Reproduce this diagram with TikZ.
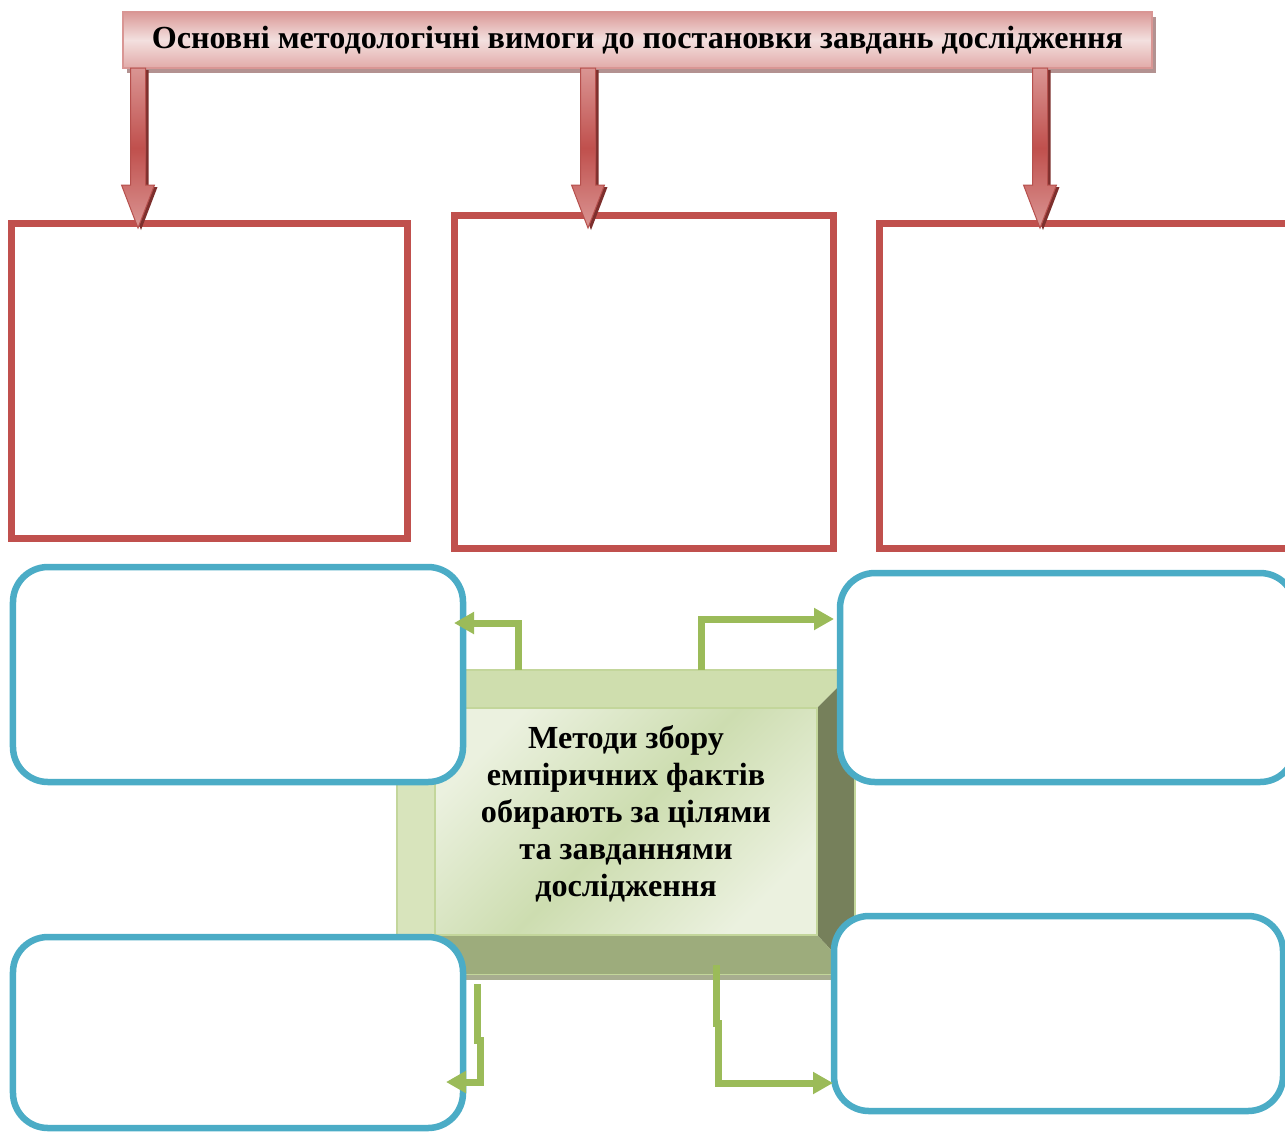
\documentclass[tikz,border=0pt]{standalone}
\usepackage{xcolor}
\usepackage{fontspec}
\setmainfont{Liberation Serif}
\usepackage{tikz}
\usetikzlibrary{arrows.meta}

\definecolor{boxred}{HTML}{C0504D}
\definecolor{boxblue}{HTML}{4BACC6}
\definecolor{linkgreen}{HTML}{9BBB59}
\definecolor{bannerdark}{HTML}{D99694}
\definecolor{bannertop}{HTML}{DA9896}
\definecolor{bannerlight}{HTML}{F3E0DF}
\definecolor{bannerbottom}{HTML}{E2AAA8}
\definecolor{bannershadow}{HTML}{B39291}
\definecolor{arrowlight}{HTML}{DA9593}
\definecolor{arrowedge}{HTML}{B6504D}
\definecolor{arrowshadow}{HTML}{7D2F2D}
\definecolor{bevtop}{HTML}{CFDEAE}
\definecolor{bevleft}{HTML}{D8E4BC}
\definecolor{bevright}{HTML}{76805B}
\definecolor{bevbottom}{HTML}{9DAC7C}
\definecolor{bevedge}{HTML}{C3D69B}
\definecolor{bevshadow}{HTML}{A7AD8F}
\definecolor{facelight}{HTML}{EBF1DF}
\definecolor{facemid}{HTML}{CDDDB0}

\begin{document}
\begin{tikzpicture}[x=0.2mm, y=-0.2mm,
        redbox/.style={rectangle, draw=boxred, line width=1.4mm},
        bluebox/.style={rectangle, draw=boxblue, fill=white, line width=1.3mm, rounded corners=7mm},
        link/.style={draw=linkgreen, line width=1.4mm, -{Triangle[length=4mm, width=4.2mm]}},
        downarrow/.style={draw=arrowedge, line width=0.2mm, top color=arrowlight, bottom color=arrowlight, middle color=boxred},
        bigtext/.style={font=\fontsize{18.3}{21}\selectfont\bfseries}]
        \useasboundingbox (0,0) rectangle (1285,1131);

        % banner
        \fill[bannershadow] (127,17) rectangle (1156,73);
        \node[rectangle, draw=bannerdark, line width=0.4mm, top color=bannertop, bottom color=bannerbottom, middle color=bannerlight, minimum width=205.8mm, minimum height=11.2mm, bigtext] at (637.5,40) (banner) {Основні методологічні вимоги до постановки завдань дослідження};

        % red boxes
        \node[redbox, minimum width=79mm, minimum height=63mm] at (209.5,380.5) (lbox) {};
        \node[redbox, minimum width=75.8mm, minimum height=66.6mm] at (643.5,381.5) (mbox) {};
        \node[redbox, minimum width=83.2mm, minimum height=65mm] at (1087,385.5) (rbox) {};

        % block arrows
        \foreach \x in {138, 588, 1040} {
            \fill[arrowshadow] (\x-4.5,70) -- (\x+10.5,70) -- (\x+10.5,187) -- (\x+19.5,187) -- (\x+3,230) -- (\x-13.5,187) -- (\x-4.5,187) -- cycle;
            \path[downarrow] (\x-7.5,68) -- (\x+7.5,68) -- (\x+7.5,185) -- (\x+16.5,185) -- (\x,228) -- (\x-16.5,185) -- (\x-7.5,185) -- cycle;
        }

        % bevel box
        \fill[bevtop] (397,670) -- (855,670) -- (817,708) -- (435,708) -- cycle;
        \fill[bevleft] (397,670) -- (435,708) -- (435,935) -- (397,975) -- cycle;
        \fill[bevright] (855,670) -- (855,975) -- (817,935) -- (817,708) -- cycle;
        \fill[bevbottom] (397,975) -- (855,975) -- (817,935) -- (435,935) -- cycle;
        \shade[top color=facelight, bottom color=facelight, middle color=facemid, shading angle=45] (435,708) rectangle (817,935);
        \draw[bevedge, line width=0.5mm] (397,670) rectangle (855,975) (435,708) rectangle (817,935);
        \fill[bevshadow] (397,975) rectangle (855,980);
        \node[bigtext, align=center] at (626,814) (midtext) {Методи збору\\емпіричних фактів\\обирають за цілями\\та завданнями\\дослідження};

        % blue boxes
        \node[bluebox, minimum width=90mm, minimum height=43mm] at (238,674.5) (tl) {};
        \node[bluebox, minimum width=91mm, minimum height=41.8mm] at (1067.5,677.5) (tr) {};
        \node[bluebox, minimum width=90mm, minimum height=38.2mm] at (238,1032.5) (bl) {};
        \node[bluebox, minimum width=89.8mm, minimum height=39mm] at (1058.5,1013.5) (br) {};

        % connectors
        \coordinate (tlfrom) at (518,670);
        \coordinate (tlto) at (454,623);
        \coordinate (trfrom) at (701,670);
        \coordinate (trto) at (834,619);
        \coordinate (blfrom) at (477,984);
        \coordinate (blto) at (446,1082);
        \coordinate (brfrom) at (716,965);
        \coordinate (brto) at (833,1083);

        \draw[link] (tlfrom) |- (tlto);
        \draw[link] (trfrom) |- (trto);
        \draw[link] (blfrom) -- ++(0,56) -- ++(3,0) |- (blto);
        \draw[link] (brfrom) -- ++(0,58) -- ++(2,0) |- (brto);
    \end{tikzpicture}
\end{document}
